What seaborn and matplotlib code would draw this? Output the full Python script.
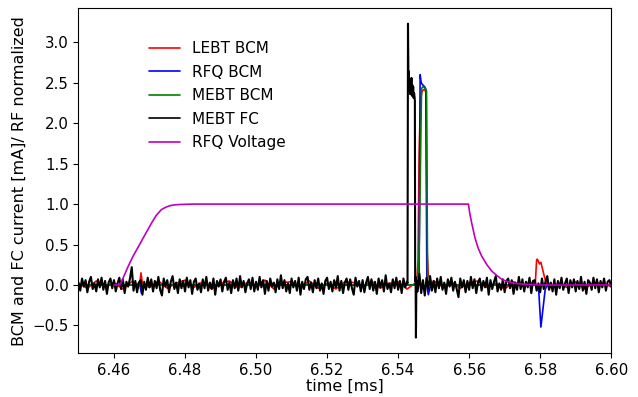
"""Beam current and RF voltage traces around the pulse."""

import matplotlib

matplotlib.use("Agg")
import matplotlib.pyplot as plt
import numpy as np
import seaborn as sns

# --- MEBT Faraday cup: baseline noise on a 0.5 us grid, read by eye ---
fc_noise = [
    0.03, -0.07, 0.08, -0.02, 0.06, -0.09, 0.04, 0.10, -0.05, 0.02, -0.08, 0.07, -0.03, 0.09, -0.06, 0.05, -0.11, 0.03, 0.08, -0.04,
    0.06, -0.08, 0.02, 0.09, -0.05, 0.07, -0.10, 0.04, -0.02, 0.08, 0.22, -0.07, 0.05, -0.09, 0.03, 0.06, -0.12, 0.04, -0.06, 0.09,
    -0.03, 0.07, -0.08, 0.05, -0.04, 0.10, -0.06, -0.13, 0.08, -0.02, 0.06, -0.09, 0.04, 0.11, -0.05, 0.03, -0.10, 0.07, -0.04, 0.05,
    -0.08, 0.09, -0.03, 0.06, -0.11, 0.04, 0.08, -0.06, 0.02, -0.09, 0.07, -0.04, 0.10, -0.07, 0.03, -0.05, 0.08, -0.12, 0.05, -0.02,
    0.07, -0.08, 0.04, 0.09, -0.06, 0.03, -0.10, 0.06, -0.04, 0.08, -0.07, 0.11, -0.03, 0.05, -0.09, 0.02, 0.07, -0.05, 0.09, -0.08,
    0.04, -0.06, 0.10, -0.03, 0.06, -0.11, 0.05, -0.07, 0.08, -0.02, 0.03, -0.09, 0.07, -0.05, 0.12, -0.04, 0.06, -0.08, 0.02, -0.10,
    0.08, -0.03, 0.05, -0.07, 0.09, -0.12, 0.04, -0.05, 0.07, 0.10, -0.06, 0.03, -0.09, 0.06, -0.04, 0.08, -0.07, 0.02, -0.11, 0.05,
    0.09, -0.05, 0.04, -0.08, 0.06, -0.03, 0.11, -0.07, 0.05, -0.10, 0.03, 0.08, -0.06, 0.07, -0.04, -0.12, 0.09, -0.02, 0.05, -0.08,
    0.06, -0.09, 0.03, 0.10, -0.05, 0.07, -0.07, 0.04, -0.11, 0.08, -0.03, 0.06, -0.08, 0.12, -0.05, 0.02, -0.09, 0.07, -0.04, 0.09,
    -0.06, 0.05, -0.10, 0.08, -0.03, 0.04, 0.00, 0.00, 0.00, 0.00, 0.00, -0.08, 0.14, -0.10, 0.06, -0.13, 0.09, -0.05, 0.11, -0.07,
    0.05, -0.09, 0.08, -0.04, 0.10, -0.06, 0.03, -0.11, 0.07, -0.02, 0.09, -0.07, 0.04, -0.05, -0.15, 0.08, -0.03, 0.06, -0.09, 0.05,
    -0.06, 0.10, -0.04, 0.07, -0.10, 0.03, 0.08, -0.07, 0.05, -0.03, 0.09, -0.12, 0.06, -0.05, 0.04, 0.11, -0.08, 0.02, -0.06, 0.07,
    -0.09, 0.05, 0.08, -0.04, 0.06, -0.11, 0.03, -0.06, 0.10, -0.05, 0.07, -0.08, 0.04, -0.03, 0.09, -0.10, 0.05, 0.06, -0.07, 0.02,
    -0.09, 0.08, -0.05, 0.04, 0.11, -0.06, 0.03, -0.08, 0.07, -0.12, 0.05, -0.04, 0.09, -0.06, 0.02, 0.08, -0.10, 0.06, -0.03, 0.07,
    -0.08, 0.05, -0.05, 0.10, -0.07, 0.04, -0.11, 0.06, 0.03, -0.06, 0.09, -0.04, 0.07, -0.09, 0.05, -0.03, 0.08, -0.07, 0.04, 0.06,
    -0.02,
]
fc_pulse_t = [6.54265, 6.54278, 6.54290, 6.54300, 6.54312, 6.54325, 6.54338, 6.54350, 6.54362, 6.54375, 6.54388, 6.54400,
              6.54412, 6.54425, 6.54438, 6.54450, 6.54462, 6.54472, 6.54480, 6.54492, 6.54502, 6.54515, 6.54530]
fc_pulse_v = [0.02, 3.23, 2.58, 2.64, 2.40, 2.52, 2.36, 2.49, 2.41, 2.56, 2.34, 2.47,
              2.39, 2.45, 2.31, 2.37, 2.33, 2.28, 0.05, 0.10, -0.65, 0.06, -0.08]

# --- LEBT BCM: small baseline wiggle on a 2.5 us grid plus three features ---
lebt_noise = [
    0.02, -0.04, 0.05, -0.02, 0.03, -0.05, 0.04, 0.01, -0.03, 0.05, -0.04, 0.02, 0.06, -0.03, 0.04, -0.05, 0.02, 0.05, -0.04, 0.03,
    -0.02, 0.06, -0.05, 0.03, 0.04, -0.03, 0.05, -0.04, 0.02, -0.05, 0.04, 0.03, -0.02, 0.05, -0.04, 0.02, 0.04, -0.05, 0.03, -0.03,
    0.05, -0.02, 0.04, -0.04, 0.03, 0.05, -0.03, 0.02, -0.05, 0.04, -0.02, 0.03, 0.05, -0.04, 0.02, -0.03, 0.04, -0.05, 0.03, 0.02,
    -0.02,
]
lebt_bump_t = [6.4672, 6.4676, 6.4680, 6.4685]
lebt_bump_v = [0.00, 0.15, 0.02, 0.00]
lebt_pulse_t = [6.5452, 6.5456, 6.5459, 6.5463, 6.5468, 6.5474, 6.5479, 6.5482, 6.5485, 6.5490, 6.5496]
lebt_pulse_v = [-0.03, 0.30, 1.60, 2.30, 2.40, 2.42, 2.38, 0.40, 0.12, 0.08, 0.00]
lebt_tail_t = [6.5786, 6.5790, 6.5792, 6.5798, 6.5802, 6.5807, 6.5812, 6.5816, 6.5820]
lebt_tail_v = [0.00, 0.31, 0.32, 0.26, 0.28, 0.19, 0.10, 0.04, 0.00]

# --- RFQ BCM ---
rfq_bump_t = [6.4673, 6.4677, 6.4681]
rfq_bump_v = [0.00, -0.10, 0.00]
rfq_pulse_t = [6.5459, 6.5462, 6.5465, 6.5470, 6.5475, 6.5478, 6.5481, 6.5485, 6.5490, 6.5500]
rfq_pulse_v = [0.00, 2.60, 2.50, 2.47, 2.45, 2.42, 0.00, -0.12, -0.03, 0.00]
rfq_tail_t = [6.5795, 6.5802, 6.5814, 6.5819]
rfq_tail_v = [0.00, -0.52, -0.06, 0.00]

# --- MEBT BCM ---
mebt_pulse_t = [6.5457, 6.5460, 6.5466, 6.5470, 6.5475, 6.5480, 6.5483, 6.5488]
mebt_pulse_v = [0.00, 0.60, 2.43, 2.45, 2.44, 2.40, 0.05, 0.00]

# --- RFQ voltage, normalized ---
rf_t = [6.4600, 6.4615, 6.4620, 6.4625, 6.4640, 6.4653, 6.4672, 6.4691, 6.4705, 6.4719, 6.4733, 6.4745, 6.4757,
        6.4770, 6.4785, 6.4820, 6.4850,
        6.5598, 6.5602, 6.5607, 6.5616, 6.5625, 6.5635, 6.5650, 6.5664, 6.5680, 6.5692, 6.5706, 6.5730, 6.5752,
        6.5800, 6.6000]
rf_v = [0.00, 0.00, 0.03, 0.08, 0.23, 0.35, 0.50, 0.65, 0.76, 0.86, 0.93, 0.96, 0.98,
        0.99, 0.995, 1.00, 1.00,
        1.00, 0.88, 0.77, 0.59, 0.46, 0.36, 0.25, 0.17, 0.11, 0.07, 0.045, 0.02, 0.01,
        0.00, 0.00]

T_START, T_END = 6.45, 6.60


def splice(t_base, v_base, t_feat, v_feat):
    """Replace the baseline samples inside a feature window with the feature."""
    t_base, v_base = np.asarray(t_base), np.asarray(v_base)
    keep = (t_base < t_feat[0]) | (t_base > t_feat[-1])
    t = np.concatenate([t_base[keep], t_feat])
    v = np.concatenate([v_base[keep], v_feat])
    order = np.argsort(t)
    return t[order], v[order]


fc_t, fc_v = splice(np.linspace(T_START, T_END, len(fc_noise)), fc_noise, fc_pulse_t, fc_pulse_v)

lebt_t, lebt_v = np.linspace(T_START, T_END, len(lebt_noise)), np.asarray(lebt_noise)
for seg_t, seg_v in [(lebt_bump_t, lebt_bump_v), (lebt_pulse_t, lebt_pulse_v), (lebt_tail_t, lebt_tail_v)]:
    lebt_t, lebt_v = splice(lebt_t, lebt_v, seg_t, seg_v)

rfq_t, rfq_v = np.array([T_START, T_END]), np.zeros(2)
for seg_t, seg_v in [(rfq_bump_t, rfq_bump_v), (rfq_pulse_t, rfq_pulse_v), (rfq_tail_t, rfq_tail_v)]:
    rfq_t, rfq_v = splice(rfq_t, rfq_v, seg_t, seg_v)

mebt_t, mebt_v = splice(np.array([T_START, T_END]), np.zeros(2), mebt_pulse_t, mebt_pulse_v)

sns.set_style("ticks", {
    "axes.edgecolor": "black", "axes.labelcolor": "black", "text.color": "black",
    "xtick.color": "black", "ytick.color": "black",
})
plt.rcParams["font.family"] = ["DejaVu Sans"]

fig, ax = plt.subplots(figsize=(6.38, 3.97), dpi=100)
fig.subplots_adjust(left=0.123, right=0.958, top=0.979, bottom=0.111)

traces = [
    (lebt_t, lebt_v, "r", "LEBT BCM", 1.2),
    (rfq_t, rfq_v, "b", "RFQ BCM", 1.2),
    (mebt_t, mebt_v, "g", "MEBT BCM", 1.2),
    (fc_t, fc_v, "k", "MEBT FC", 1.5),
    (rf_t, rf_v, "m", "RFQ Voltage", 1.2),
]
for t, v, color, label, lw in traces:
    sns.lineplot(x=t, y=v, color=color, lw=lw, label=label, estimator=None, sort=False, ax=ax)

ax.set_xlim(T_START, T_END)
ax.set_ylim(-0.84, 3.42)
ax.set_xlabel("time [ms]", fontsize=11.5, labelpad=0.5)
ax.set_ylabel("BCM and FC current [mA]/ RF normalized", fontsize=11.5)
ax.tick_params(labelsize=10.8)
for side in ["top", "right"]:
    ax.spines[side].set_visible(True)

leg = ax.legend(loc="upper left", bbox_to_anchor=(0.107, 0.945), frameon=False, fontsize=11, labelspacing=0.56)
for line in leg.get_lines():
    line.set_linewidth(1.2)
for text in leg.get_texts():
    text.set_color("black")

fig.savefig("out.png", dpi=100)
